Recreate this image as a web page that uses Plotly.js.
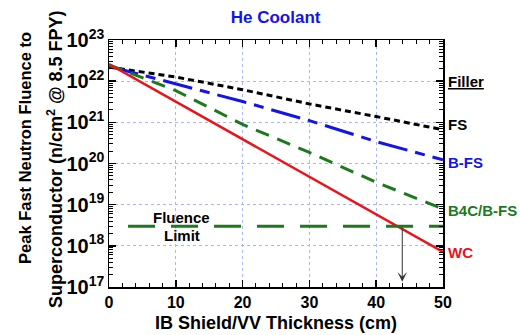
<!DOCTYPE html>
<html>
<head>
<meta charset="utf-8">
<script src="https://cdn.plot.ly/plotly-3.0.1.min.js"></script>
<style>html,body{margin:0;padding:0;background:#fff;}#chart{width:520px;height:335px;}</style>
</head>
<body>
<div id="chart"></div>
<script>
// Data
const thickness = [0, 10, 20, 30, 40, 50];
const fsVals   = [2.2e22, 1.26e22, 6.2e21, 2.8e21, 1.38e21, 6.6e20];
const bfsVals  = [2.3e22, 8.7e21, 3.2e21, 1.1e21, 3.4e20, 1.23e20];
const b4cVals  = [2.5e22, 5.9e21, 8.9e20, 1.86e20, 3.5e19, 7.9e18];
const wcVals   = [2.6e22, 3.2e21, 3.9e20, 4.8e19, 5.9e18, 7.1e17];
const limitX   = [2.85, 50];
const limitVal = [3e18, 3e18];
const crossX   = 43.9;
const seriesNames = ['FS', 'B-FS', 'B4C/B-FS', 'WC'];
const xTicks = [0, 10, 20, 30, 40, 50];

const FONT = 'Arial, "Liberation Sans", sans-serif';
const BLACK = '#000000', BLUE = '#1414e6', GREEN = '#1c7a1c', RED = '#e8141c';

const traces = [
  {x: thickness, y: fsVals, name: seriesNames[0], mode: 'lines',
   line: {color: BLACK, width: 3, dash: '6px,4px'}},
  {x: thickness, y: bfsVals, name: seriesNames[1], mode: 'lines',
   line: {color: BLUE, width: 3, dash: '30px,8px,10px,8px'}},
  {x: thickness, y: b4cVals, name: seriesNames[2], mode: 'lines',
   line: {color: GREEN, width: 3, dash: '14px,9px'}},
  {x: thickness, y: wcVals, name: seriesNames[3], mode: 'lines',
   line: {color: RED, width: 2.5}},
  {x: limitX, y: limitVal, name: 'Fluence Limit', mode: 'lines',
   line: {color: GREEN, width: 3, dash: '27px,16px'}}
];

const lbl = (text, y, color) => ({
  x: 50, y: y, xref: 'x', yref: 'y', text: text, showarrow: false,
  xanchor: 'left', yanchor: 'middle', xshift: 3,
  font: {family: FONT, size: 15, color: color, weight: 'bold'}
});

const layout = {
  width: 520, height: 335,
  margin: {l: 109, r: 77, t: 40, b: 48},
  paper_bgcolor: '#fff', plot_bgcolor: '#fff',
  showlegend: false,
  font: {family: FONT, color: '#000'},
  title: {text: 'He Coolant', x: 0.53, xanchor: 'center', y: 0.95, yanchor: 'middle',
          font: {family: FONT, size: 17, color: BLUE, weight: 'bold'}},
  xaxis: {
    range: [0, 50], tickvals: xTicks, ticktext: xTicks.map(String),
    showgrid: true, gridcolor: '#a9b6f2', griddash: 'dot', gridwidth: 1,
    zeroline: false, showline: true, linecolor: '#000', linewidth: 1.5, mirror: 'allticks',
    ticks: 'inside', ticklen: 7, tickwidth: 1.5, tickcolor: '#000',
    minor: {dtick: 2, ticks: 'inside', ticklen: 4, tickwidth: 1, tickcolor: '#000', showgrid: false},
    tickfont: {family: FONT, size: 16, weight: 'bold'},
    title: {text: 'IB Shield/VV Thickness (cm)', standoff: 6,
            font: {family: FONT, size: 18, weight: 'bold'}}
  },
  yaxis: {
    type: 'log', range: [17, 23], dtick: 1, exponentformat: 'power',
    showgrid: true, gridcolor: '#a9b6f2', griddash: 'dot', gridwidth: 1,
    zeroline: false, showline: true, linecolor: '#000', linewidth: 1.5, mirror: 'allticks',
    ticks: 'inside', ticklen: 7, tickwidth: 1.5, tickcolor: '#000',
    minor: {dtick: 'D1', ticks: 'inside', ticklen: 4, tickwidth: 1, tickcolor: '#000', showgrid: false},
    tickfont: {family: FONT, size: 16, weight: 'bold'}
  },
  annotations: [
    {x: -0.2515, y: 0.563, xref: 'paper', yref: 'paper', textangle: -90, showarrow: false,
     xanchor: 'center', yanchor: 'middle', text: 'Peak Fast Neutron Fluence to',
     font: {family: FONT, size: 16.5, weight: 'bold'}},
    {x: -0.1617, y: 0.518, xref: 'paper', yref: 'paper', textangle: -90, showarrow: false,
     xanchor: 'center', yanchor: 'middle', text: 'Superconductor (n/cm<sup>2</sup> @ 8.5 FPY)',
     font: {family: FONT, size: 18, weight: 'bold'}},
    lbl('<u>Filler</u>', 22, BLACK),
    lbl('FS', 20.94, BLACK),
    lbl('B-FS', 20.03, BLUE),
    lbl('B4C/B-FS', 18.87, GREEN),
    lbl('WC', 17.85, RED),
    {x: 10.9, y: 18.68, xref: 'x', yref: 'y', text: 'Fluence', showarrow: false,
     xanchor: 'center', yanchor: 'middle', font: {family: FONT, size: 15, weight: 'bold'}},
    {x: 10.9, y: 18.24, xref: 'x', yref: 'y', text: 'Limit', showarrow: false,
     xanchor: 'center', yanchor: 'middle', font: {family: FONT, size: 15, weight: 'bold'}},
    {x: crossX, y: Math.log10(1.35e17), ax: crossX, ay: Math.log10(limitVal[0]),
     xref: 'x', yref: 'y', axref: 'x', ayref: 'y', text: '', showarrow: true,
     arrowhead: 3, arrowsize: 1.6, arrowwidth: 1, arrowcolor: '#333'}
  ]
};

Plotly.newPlot('chart', traces, layout, {displayModeBar: false, staticPlot: true});
</script>
</body>
</html>
